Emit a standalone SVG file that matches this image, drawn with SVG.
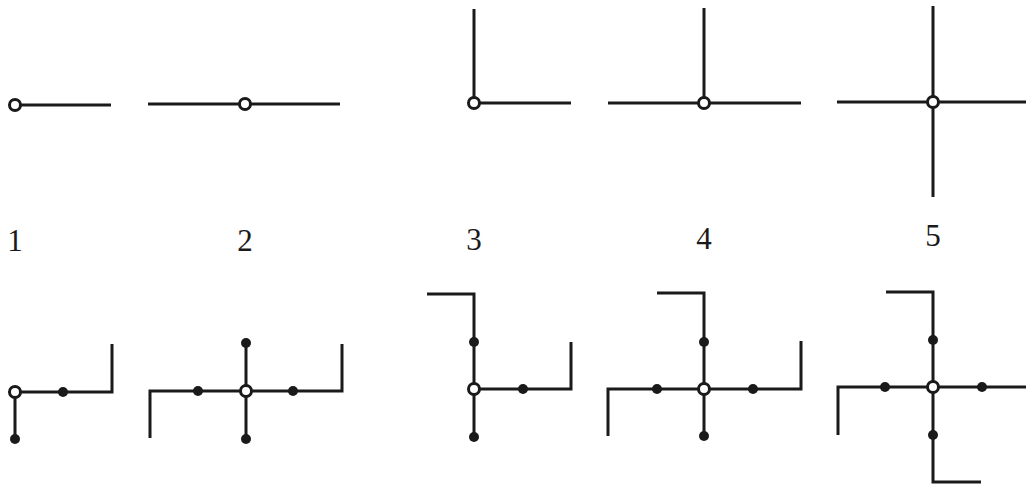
<svg xmlns="http://www.w3.org/2000/svg" width="1026" height="486" viewBox="0 0 1026 486">
<style>
.ln{fill:none;stroke:#1a1a1a;stroke-width:3;stroke-linecap:butt;stroke-linejoin:miter}
.open{fill:#fff;stroke:#1a1a1a;stroke-width:3}
.dot{fill:#1a1a1a;stroke:none}
.lbl{font-family:"Liberation Serif","Times New Roman",serif;font-size:31px;fill:#1a1a1a;text-anchor:middle}
</style>
<rect width="1026" height="486" fill="#fff"/>
<g id="fig1">
<path class="ln" d="M15 105 H111"/>
<circle class="open" cx="15" cy="105" r="5.5"/>
</g>
<g id="fig2">
<path class="ln" d="M148 104 H340"/>
<circle class="open" cx="245" cy="104" r="5.5"/>
</g>
<g id="fig3">
<path class="ln" d="M474 9 V103 H571"/>
<circle class="open" cx="474" cy="103" r="5.5"/>
</g>
<g id="fig4">
<path class="ln" d="M608 103 H801 M704 8 V103"/>
<circle class="open" cx="704" cy="103" r="5.5"/>
</g>
<g id="fig5">
<path class="ln" d="M837 102 H1026 M933 6 V197"/>
<circle class="open" cx="933" cy="102" r="5.5"/>
</g>
<g id="labels">
<text class="lbl" x="15" y="251">1</text>
<text class="lbl" x="245" y="251">2</text>
<text class="lbl" x="474" y="250">3</text>
<text class="lbl" x="704" y="249">4</text>
<text class="lbl" x="933" y="246">5</text>
</g>
<g id="fig6">
<path class="ln" d="M15 439 V392 H112 V344"/>
<circle class="dot" cx="63" cy="392" r="5"/>
<circle class="dot" cx="15" cy="439" r="5"/>
<circle class="open" cx="15" cy="392" r="5.5"/>
</g>
<g id="fig7">
<path class="ln" d="M150 438 V391 H342 V344 M246 343 V439"/>
<circle class="dot" cx="198" cy="391" r="5"/>
<circle class="dot" cx="293" cy="391" r="5"/>
<circle class="dot" cx="246" cy="343" r="5"/>
<circle class="dot" cx="246" cy="439" r="5"/>
<circle class="open" cx="246" cy="391" r="5.5"/>
</g>
<g id="fig8">
<path class="ln" d="M427 294 H474 V437 M474 389 H571 V342"/>
<circle class="dot" cx="474" cy="342" r="5"/>
<circle class="dot" cx="474" cy="437" r="5"/>
<circle class="dot" cx="523" cy="389" r="5"/>
<circle class="open" cx="474" cy="389" r="5.5"/>
</g>
<g id="fig9">
<path class="ln" d="M657 293 H704 V436 M608 436 V389 H801 V341"/>
<circle class="dot" cx="704" cy="342" r="5"/>
<circle class="dot" cx="704" cy="436" r="5"/>
<circle class="dot" cx="657" cy="389" r="5"/>
<circle class="dot" cx="753" cy="389" r="5"/>
<circle class="open" cx="704" cy="389" r="5.5"/>
</g>
<g id="fig10">
<path class="ln" d="M886 292 H933 V482 H981 M838 435 V387 H1026"/>
<circle class="dot" cx="933" cy="340" r="5"/>
<circle class="dot" cx="933" cy="435" r="5"/>
<circle class="dot" cx="885" cy="387" r="5"/>
<circle class="dot" cx="982" cy="387" r="5"/>
<circle class="open" cx="933" cy="387" r="5.5"/>
</g>
</svg>
